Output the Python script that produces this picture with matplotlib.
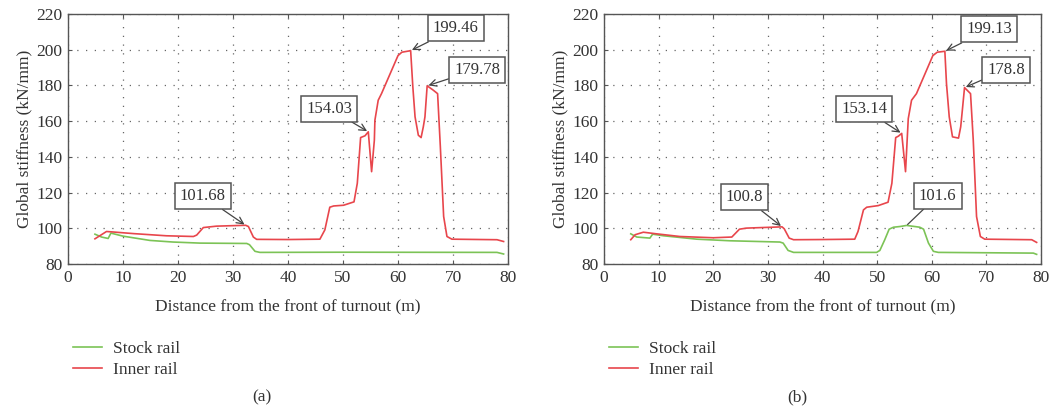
"""Global stiffness along the turnout for stock and inner rails."""

import matplotlib.pyplot as plt

plt.rcParams["font.family"] = ["Liberation Serif", "DejaVu Serif"]

# (a) stiffness profile
a_inner_x = [4.9, 7.0, 7.9, 12.0, 17.9, 22.8, 23.4, 24.6, 27.0, 32.3, 32.8, 33.7,
             34.3, 40.0, 45.8, 46.7, 47.6, 48.3, 50.1, 52.0, 52.6, 53.2, 54.0,
             54.6, 55.2, 55.7, 55.8, 56.4, 57.0, 60.0, 60.7, 62.3, 62.7, 63.1,
             63.7, 64.2, 64.6, 64.9, 65.3, 66.3, 67.2, 67.7, 68.3, 68.9, 69.8,
             78.0, 79.2]
a_inner_y = [94.1, 98.2, 98.0, 97.0, 95.8, 95.4, 96.2, 100.4, 101.2, 101.68, 101.0,
             95.1, 93.8, 93.7, 93.9, 99.1, 111.8, 112.5, 112.9, 114.8, 125.2,
             150.8, 151.8, 154.03, 131.7, 149.3, 160.5, 171.7, 175.4, 196.7,
             198.6, 199.46, 179.1, 162.4, 152.1, 150.8, 156.8, 162.4, 179.78,
             177.6, 175.4, 145.6, 106.6, 95.4, 93.9, 93.6, 92.6]
a_stock_x = [4.9, 6.1, 7.3, 7.8, 10.0, 14.9, 19.1, 24.0, 32.5, 33.0, 34.0, 34.9,
             50.0, 78.0, 79.2]
a_stock_y = [96.7, 95.1, 94.3, 97.3, 95.6, 93.2, 92.3, 91.7, 91.5, 90.8, 87.1,
             86.5, 86.6, 86.5, 85.6]

# (b) stiffness profile
b_inner_x = [4.9, 5.7, 7.2, 9.6, 13.9, 20.0, 23.4, 24.8, 26.1, 32.6, 33.0, 33.9,
             34.7, 40.0, 45.9, 46.5, 47.5, 48.1, 50.2, 52.0, 52.7, 53.4, 53.9,
             54.5, 55.2, 55.7, 56.3, 57.2, 60.2, 61.0, 62.4, 62.7, 63.2, 63.8,
             64.9, 65.3, 65.6, 66.0, 67.1, 67.6, 68.2, 68.9, 69.7, 78.3, 79.2]
b_inner_y = [93.6, 96.4, 97.8, 96.9, 95.4, 94.7, 95.1, 99.5, 100.1, 100.8, 99.7,
             94.5, 93.6, 93.7, 93.9, 98.2, 110.3, 111.8, 112.7, 114.6, 125.2,
             150.8, 151.6, 153.14, 131.7, 161.4, 171.7, 175.4, 196.7, 198.6,
             199.13, 180.9, 162.4, 151.2, 150.5, 156.8, 166.1, 178.8, 175.4,
             149.3, 106.6, 95.4, 93.9, 93.6, 92.1]
b_stock_x = [4.9, 6.0, 8.4, 8.9, 10.9, 17.0, 23.1, 32.2, 32.8, 33.7, 34.7, 49.9,
             50.5, 51.4, 52.2, 53.0, 54.2, 55.4, 57.8, 58.5, 59.4, 60.3, 61.2,
             78.6, 79.2]
b_stock_y = [96.9, 95.1, 94.5, 96.7, 95.8, 93.9, 93.0, 92.3, 91.7, 87.6, 86.5,
             86.5, 87.6, 93.6, 99.5, 100.6, 101.0, 101.6, 100.6, 99.5, 91.7,
             87.1, 86.5, 86.1, 85.4]

# callouts: value, point x, box centre (x, y), arrow style
a_notes = [("101.68", 32.3, 101.68, 24.5, 118.1, "->"),
           ("154.03", 54.6, 154.03, 47.5, 167.0, "->"),
           ("199.46", 62.3, 199.46, 70.5, 212.0, "->"),
           ("179.78", 65.3, 179.78, 74.4, 188.9, "->")]
b_notes = [("100.8", 32.6, 100.8, 25.7, 117.4, "->"),
           ("153.14", 54.5, 153.14, 47.6, 166.8, "->"),
           ("199.13", 62.4, 199.13, 70.5, 211.4, "->"),
           ("178.8", 66.0, 178.8, 73.6, 188.9, "->"),
           ("101.6", 55.4, 101.6, 61.1, 118.3, "-")]

STOCK = "#7cc356"
INNER = "#e8464c"
EDGE = "#555555"
INK = "#333333"
FS = 12.5


def draw_panel(ax, stock_x, stock_y, inner_x, inner_y, notes):
    """Draw one stiffness panel with its callouts and legend."""
    ax.plot(stock_x, stock_y, color=STOCK, lw=1.2, label="Stock rail")
    ax.plot(inner_x, inner_y, color=INNER, lw=1.2, label="Inner rail")

    ax.set_xlim(0, 80)
    ax.set_ylim(80, 220)
    ax.set_xticks(range(0, 81, 10))
    ax.set_yticks(range(80, 221, 20))
    ax.grid(True, color="#666666", linestyle=(0, (1, 6)), lw=0.9)
    ax.tick_params(labelsize=FS, length=3, direction="in", top=True,
                   color=EDGE, labelcolor=INK, pad=4)
    for spine in ax.spines.values():
        spine.set_color(EDGE)
        spine.set_linewidth(1.0)

    ax.set_xlabel("Distance from the front of turnout (m)", fontsize=FS,
                  color=INK, labelpad=9)
    ax.set_ylabel("Global stiffness (kN/mm)", fontsize=FS, color=INK,
                  labelpad=3)

    for text, px, py, tx, ty, style in notes:
        ax.annotate(text, xy=(px, py), xytext=(tx, ty), fontsize=12,
                    color=INK, ha="center", va="center",
                    bbox=dict(boxstyle="square,pad=0.3", fc="white",
                              ec=EDGE, lw=1.1),
                    arrowprops=dict(arrowstyle=style, color="#444444", lw=0.9,
                                    shrinkA=0, shrinkB=1))

    ax.legend(loc="upper left", bbox_to_anchor=(-0.025, -0.245), frameon=False,
              fontsize=FS, handlelength=1.7, handletextpad=0.6,
              labelspacing=0.3, labelcolor=INK)


fig = plt.figure(figsize=(10.63, 4.11), dpi=100)
ax_a = fig.add_axes([68 / 1063, 1 - 264 / 411, 440 / 1063, 250 / 411])
ax_b = fig.add_axes([604 / 1063, 1 - 264 / 411, 437 / 1063, 250 / 411])

draw_panel(ax_a, a_stock_x, a_stock_y, a_inner_x, a_inner_y, a_notes)
draw_panel(ax_b, b_stock_x, b_stock_y, b_inner_x, b_inner_y, b_notes)

fig.text(262 / 1063, 1 - 397 / 411, "(a)", ha="center", va="center",
         fontsize=FS, color=INK)
fig.text(797 / 1063, 1 - 397 / 411, "(b)", ha="center", va="center",
         fontsize=FS, color=INK)

fig.savefig("out.png", dpi=100)
